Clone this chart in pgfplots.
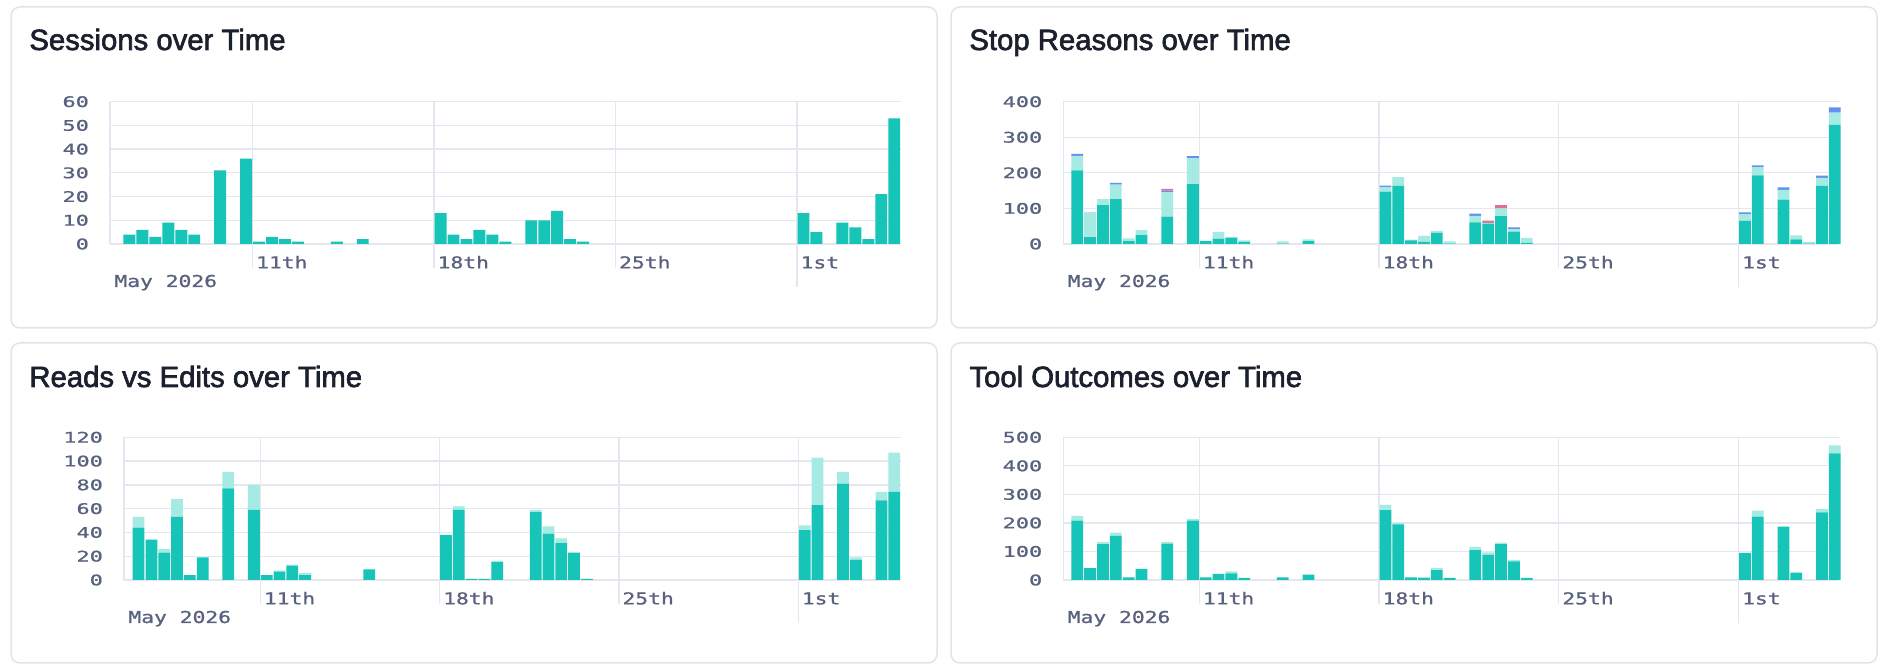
\documentclass[border=0pt]{standalone}
\usepackage{pgfplots}
\usepackage{pgfplotstable}
\usepackage{fontspec}
\pgfplotsset{compat=1.18}
\setmainfont{Liberation Sans}
\newfontfamily\titlefont[FakeBold=2.2]{Liberation Sans}
\newfontfamily\ytickfont[FakeStretch=1.5, FakeBold=0.9]{DejaVu Sans Mono}
\newfontfamily\xtickfont[FakeStretch=1.3, FakeBold=0.9]{DejaVu Sans Mono}

\definecolor{teal1}{RGB}{22,196,184}
\definecolor{teal2}{RGB}{166,234,228}
\definecolor{blue1}{RGB}{100,145,236}
\definecolor{pink1}{RGB}{222,112,150}
\definecolor{gridc}{RGB}{228,230,240}
\definecolor{tickc}{RGB}{88,98,126}
\definecolor{titlec}{RGB}{26,32,46}
\definecolor{borderc}{RGB}{226,228,236}

% half-day bins, t = 0 is the start of May 11th
\pgfplotstableread{
t v
-10 4
-9 6
-8 3
-7 9
-6 6
-5 4
-3 31
-1 36
0 1
1 3
2 2
3 1
6 1
8 2
14 13
15 4
16 2
17 6
18 4
19 1
21 10
22 10
23 14
24 2
25 1
42 13
43 5
45 9
46 7
47 2
48 21
49 53
}\sessions

\pgfplotstableread{
t a b c d
-10 207 41 5 0
-9 19 67 2 0
-8 109 17 0 0
-7 126 41 5 0
-6 8 8 0 0
-5 25 14 0 0
-3 77 68 5 5
-1 168 73 6 0
0 8 1 0 0
1 15 19 0 0
2 17 3 0 0
3 6 4 0 0
6 1 6 0 0
8 8 5 0 0
14 147 13 4 0
15 163 25 0 0
16 10 2 0 0
17 6 17 0 0
18 31 6 0 0
19 1 6 0 0
21 61 18 6 0
22 57 2 0 7
23 78 22 0 9
24 35 6 6 0
25 3 14 0 0
42 65 19 5 0
43 193 23 5 0
45 125 27 7 0
46 13 11 0 0
47 1 5 0 0
48 163 23 6 0
49 335 34 15 0
}\stops

\pgfplotstableread{
t a b
-10 44 9
-9 34 0
-8 23 3
-7 53 15
-6 4 0
-5 19 0
-3 77 14
-1 59 21
0 4 0
1 7 1
2 12 1
3 4 2
8 9 0
14 38 0
15 59 3
16 1 0
17 1 0
18 15 1
21 57 2
22 39 6
23 31 4
24 23 0
25 1 0
42 42 4
43 63 40
45 81 10
46 17 2
48 67 7
49 74 33
}\reads

\pgfplotstableread{
t a b
-10 208 17
-9 42 0
-8 126 7
-7 155 11
-6 9 0
-5 39 0
-3 127 6
-1 208 5
0 9 0
1 21 0
2 23 7
3 7 0
6 9 0
8 19 0
14 245 18
15 195 4
16 9 0
17 8 0
18 35 7
19 7 0
21 105 11
22 88 9
23 126 5
24 65 5
25 7 0
42 95 0
43 222 21
45 185 4
46 26 0
48 237 11
49 444 28
}\tools

\pgfplotsset{
  panel/.style={
    scale only axis, anchor=south west, clip=false,
    enlargelimits=false, ymin=0,
    axis line style={draw=none}, tick style={draw=none},
    xmajorgrids, ymajorgrids,
    grid style={gridc, line width=0.65pt},
    xtick={0,14,28,42}, xticklabels={11th,18th,25th,1st},
    xticklabel style={font=\xtickfont\fontsize{8.2}{10}\selectfont, text=tickc,
      anchor=base west, inner sep=0pt, xshift=1.6pt, yshift=-12.2pt},
    yticklabel style={font=\ytickfont\fontsize{7.3}{9}\selectfont, text=tickc,
      anchor=east, inner sep=0pt, xshift=-10.35pt},
    /pgf/number format/assume math mode=true,
    ybar stacked, bar width=0.92,
  },
  bars/.style={draw=none, fill=#1},
}

% left frame line, tick extensions and the month label
\newcommand{\panelextras}{%
  \draw[gridc, line width=0.65pt] (rel axis cs:0,0) -- (rel axis cs:0,1);
  \draw[gridc, line width=0.65pt] (axis cs:0,0) -- ++(0pt,-12pt);
  \draw[gridc, line width=0.65pt] (axis cs:14,0) -- ++(0pt,-12pt);
  \draw[gridc, line width=0.65pt] (axis cs:28,0) -- ++(0pt,-12pt);
  \draw[gridc, line width=0.65pt] (axis cs:42,0) -- ++(0pt,-21.5pt);
  \node[anchor=base west, inner sep=0pt, text=tickc,
    font=\xtickfont\fontsize{8.2}{10}\selectfont]
    at ([xshift=2pt, yshift=-21.5pt]rel axis cs:0,0) {May 2026};
}

\begin{document}
\begin{tikzpicture}
\fill[white] (0,0) rectangle (944pt,336pt);
\begin{scope}[draw=borderc, line width=0.75pt, rounded corners=4.5pt]
  \draw (5.5pt,172pt) rectangle (468.5pt,332.5pt);
  \draw (475.5pt,172pt) rectangle (938.5pt,332.5pt);
  \draw (5.5pt,4.5pt) rectangle (468.5pt,164.5pt);
  \draw (475.5pt,4.5pt) rectangle (938.5pt,164.5pt);
\end{scope}
\begin{scope}[every node/.style={anchor=base west, inner sep=0pt, text=titlec,
    font=\titlefont\fontsize{14.65}{17}\selectfont}]
  \node at (14.5pt,311pt) {Sessions over Time};
  \node at (484.5pt,311pt) {Stop Reasons over Time};
  \node at (14.5pt,142.5pt) {Reads vs Edits over Time};
  \node at (484.5pt,142.5pt) {Tool Outcomes over Time};
\end{scope}

% Sessions
\begin{axis}[panel, at={(55pt,214pt)}, width=395.35pt, height=71.15pt,
  xmin=-11, xmax=50, ymax=60, ytick={0,10,...,60}]
  \addplot[bars=teal1] table[x expr=\thisrow{t}+0.5, y=v] {\sessions};
  \panelextras
\end{axis}

% Stop reasons
\begin{axis}[panel, at={(531.65pt,214pt)}, width=388pt, height=71.15pt,
  xmin=-10.59, xmax=49.85, ymax=400, ytick={0,100,...,400}]
  \addplot[bars=teal1] table[x expr=\thisrow{t}+0.5, y=a] {\stops};
  \addplot[bars=teal2] table[x expr=\thisrow{t}+0.5, y=b] {\stops};
  \addplot[bars=blue1] table[x expr=\thisrow{t}+0.5, y=c] {\stops};
  \addplot[bars=pink1] table[x expr=\thisrow{t}+0.5, y=d] {\stops};
  \panelextras
\end{axis}

% Reads vs edits
\begin{axis}[panel, at={(62pt,46pt)}, width=388.35pt, height=71.35pt,
  xmin=-10.64, xmax=50, ymax=120, ytick={0,20,...,120}]
  \addplot[bars=teal1] table[x expr=\thisrow{t}+0.5, y=a] {\reads};
  \addplot[bars=teal2] table[x expr=\thisrow{t}+0.5, y=b] {\reads};
  \panelextras
\end{axis}

% Tool outcomes
\begin{axis}[panel, at={(531.65pt,46pt)}, width=388pt, height=71.35pt,
  xmin=-10.59, xmax=49.85, ymax=500, ytick={0,100,...,500}]
  \addplot[bars=teal1] table[x expr=\thisrow{t}+0.5, y=a] {\tools};
  \addplot[bars=teal2] table[x expr=\thisrow{t}+0.5, y=b] {\tools};
  \panelextras
\end{axis}
\end{tikzpicture}
\end{document}
